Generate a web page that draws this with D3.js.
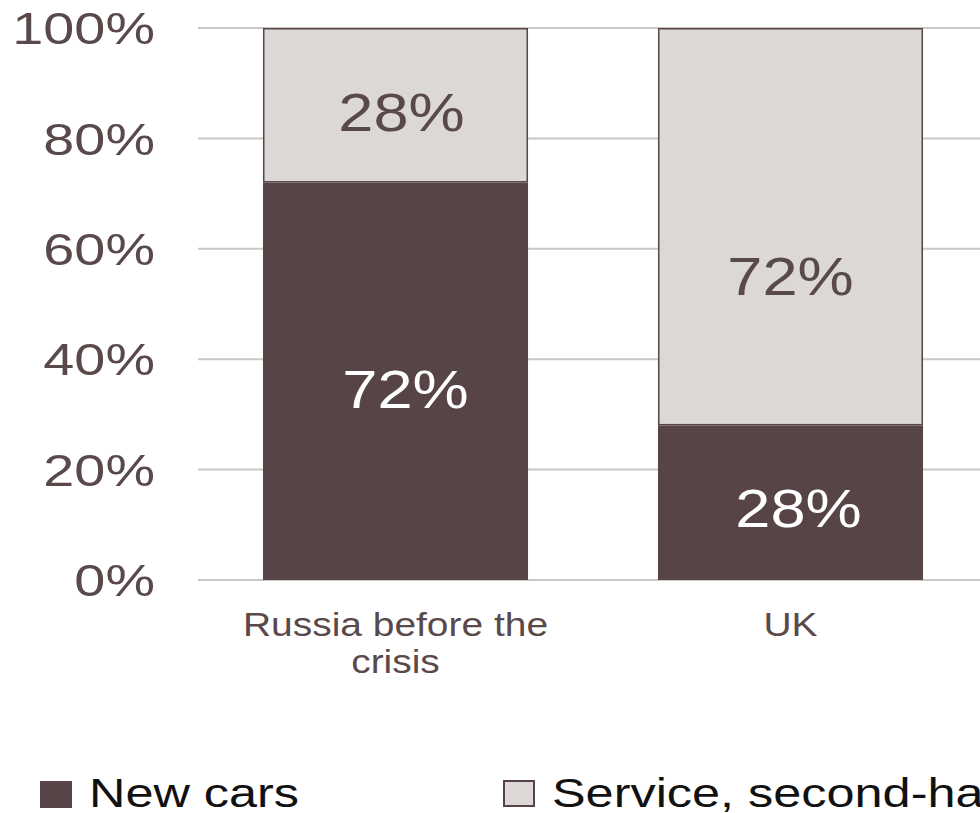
<!DOCTYPE html>
<html>
<head>
<meta charset="utf-8">
<script src="https://cdn.jsdelivr.net/npm/d3@7/dist/d3.min.js"></script>
<style>
  html, body { margin: 0; padding: 0; background: #ffffff; overflow: hidden; }
  svg { display: block; }
  text { font-family: "Liberation Sans", Arial, sans-serif; }
</style>
</head>
<body>
<div id="chart"></div>
<script>
// ---- data ----
const categories = ["Russia before the crisis", "UK"];
const categoryLines = [["Russia before the", "crisis"], ["UK"]];
const seriesNames = ["New cars", "Service, second-hand cars"];
const newCars = [72, 28];
const serviceSecondHand = [28, 72];
const yTicks = [0, 20, 40, 60, 80, 100];
// label nudges (px), matching the reference's label placement
const labelNudgeNew = [[10, 7], [8, 5]];
const labelNudgeService = [[6, 6], [0, 49]];

// ---- layout ----
const W = 980, H = 813;
const colDark = "#574446";
const colLight = "#dcd8d6";
const colText = "#5a494a";
const colGrid = "#ccc6c4";

const svg = d3.select("#chart").append("svg")
  .attr("width", W).attr("height", H);

const x = d3.scaleBand().domain(categories).range([198, 988]).paddingInner(0.329).paddingOuter(0.1645);
const y = d3.scaleLinear().domain([0, 100]).range([580, 28]);

// gridlines
svg.append("g").selectAll("line").data(yTicks).join("line")
  .attr("x1", 198).attr("x2", W)
  .attr("y1", d => y(d)).attr("y2", d => y(d))
  .attr("stroke", colGrid).attr("stroke-width", 2);

// y tick labels
svg.append("g").selectAll("text").data(yTicks).join("text")
  .attr("transform", d => `translate(155,${y(d)}) scale(1.24,1)`)
  .attr("text-anchor", "end").attr("dy", "0.36em")
  .attr("font-size", 45).attr("fill", colText)
  .text(d => d + "%");

const stacked = categories.map((c, i) => ({
  cat: c, i,
  segs: [
    { key: 0, y0: 0, y1: newCars[i], v: newCars[i], nudge: labelNudgeNew[i] },
    { key: 1, y0: newCars[i], y1: newCars[i] + serviceSecondHand[i], v: serviceSecondHand[i], nudge: labelNudgeService[i] }
  ]
}));

const bars = svg.append("g").selectAll("g").data(stacked).join("g");

bars.selectAll("rect").data(d => d.segs.map(s => ({ ...s, cat: d.cat }))).join("rect")
  .attr("x", d => x(d.cat) + (d.key === 1 ? 0.75 : 0))
  .attr("width", d => x.bandwidth() - (d.key === 1 ? 1.5 : 0))
  .attr("y", d => y(d.y1) + (d.key === 1 ? 0.75 : 0))
  .attr("height", d => y(d.y0) - y(d.y1) - (d.key === 1 ? 1.5 : 0))
  .attr("fill", d => d.key === 0 ? colDark : colLight)
  .attr("stroke", d => d.key === 1 ? colDark : "none")
  .attr("stroke-width", 1.5);

bars.selectAll("text").data(d => d.segs.map(s => ({ ...s, cat: d.cat }))).join("text")
  .attr("transform", d => `translate(${x(d.cat) + x.bandwidth() / 2 + d.nudge[0]},${(y(d.y0) + y(d.y1)) / 2 + d.nudge[1]}) scale(1.17,1)`)
  .attr("text-anchor", "middle").attr("dy", "0.36em")
  .attr("font-size", 54)
  .attr("fill", d => d.key === 0 ? "#ffffff" : colText)
  .text(d => d.v + "%");

// category labels
const cl = svg.append("g").selectAll("g").data(categories).join("g");
cl.each(function(c, i) {
  const g = d3.select(this);
  categoryLines[i].forEach((line, j) => {
    g.append("text")
      .attr("transform", `translate(${x(c) + x.bandwidth() / 2},${636 + j * 37}) scale(1.18,1)`)
      .attr("text-anchor", "middle")
      .attr("font-size", 33).attr("fill", colText)
      .text(line);
  });
});

// legend
const legendX = [40, 503];
const lg = svg.append("g").selectAll("g").data(seriesNames).join("g");
lg.append("rect")
  .attr("x", (d, i) => legendX[i] + (i === 1 ? 1 : 0))
  .attr("y", 781)
  .attr("width", (d, i) => i === 1 ? 30 : 32)
  .attr("height", (d, i) => i === 1 ? 25 : 27)
  .attr("fill", (d, i) => i === 0 ? colDark : colLight)
  .attr("stroke", (d, i) => i === 1 ? colDark : "none")
  .attr("stroke-width", 2);
lg.append("text")
  .attr("transform", (d, i) => `translate(${legendX[i] + 49},807) scale(1.23,1)`)
  .attr("font-size", 41).attr("fill", "#111111")
  .text(d => d);
</script>
</body>
</html>
